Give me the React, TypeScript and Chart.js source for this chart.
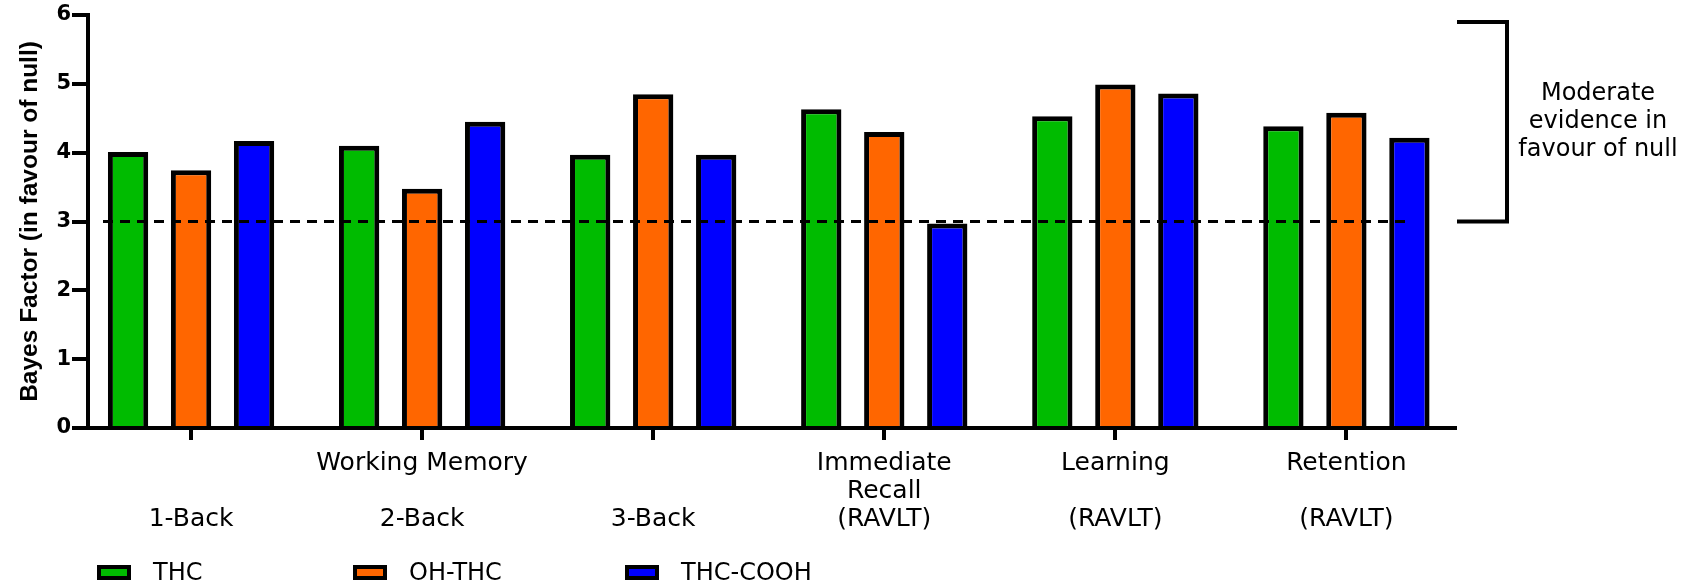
import React, { useEffect, useRef } from 'react';
import { Chart, registerables } from 'chart.js';

Chart.register(...registerables);

// ---- data ----
const categories: string[][] = [
  ['', '', '1-Back'],
  ['Working Memory', '', '2-Back'],
  ['', '', '3-Back'],
  ['Immediate', 'Recall', '(RAVLT)'],
  ['Learning', '', '(RAVLT)'],
  ['Retention', '', '(RAVLT)'],
];
const seriesNames = ['THC', 'OH-THC', 'THC-COOH'];
const thcValues = [4.01, 4.1, 3.97, 4.63, 4.53, 4.385];
const ohThcValues = [3.745, 3.475, 4.85, 4.3, 4.99, 4.58];
const thcCoohValues = [4.17, 4.45, 3.97, 2.97, 4.86, 4.215];
const seriesColors = ['#00bb00', '#ff6600', '#0000ff'];
const yMin = 0;
const yMax = 6;
const yStep = 1;
const threshold = 3;
const bracketRange = [3, 5.9];
const annotationLines = ['Moderate', 'evidence in', 'favour of null'];
const yTitle = 'Bayes Factor (in favour of null)';
const xRange = [-0.446, 5.47];

// layout constants (not data)
const FONT = 'DejaVu Sans';
const legendItemX = [97, 353, 625];

const overlayPlugin = {
  id: 'overlay',
  afterDatasetsDraw(chart: any) {
    const { ctx, chartArea } = chart;
    const y = chart.scales.y;
    const yy = y.getPixelForValue(threshold);
    ctx.save();
    ctx.setLineDash([10, 7]);
    ctx.lineWidth = 3;
    ctx.strokeStyle = '#000';
    ctx.beginPath();
    ctx.moveTo(chartArea.left + 15, yy);
    ctx.lineTo(chartArea.right - 43, yy);
    ctx.stroke();
    ctx.restore();
  },
  afterDraw(chart: any) {
    const { ctx, chartArea } = chart;
    const y = chart.scales.y;
    ctx.save();
    // bracket
    const yTop = y.getPixelForValue(bracketRange[1]);
    const yBot = y.getPixelForValue(bracketRange[0]);
    const bx0 = chartArea.right + 2;
    const bx1 = chartArea.right + 52;
    ctx.lineWidth = 4;
    ctx.strokeStyle = '#000';
    ctx.lineJoin = 'miter';
    ctx.beginPath();
    ctx.moveTo(bx0, yTop);
    ctx.lineTo(bx1, yTop);
    ctx.lineTo(bx1, yBot);
    ctx.lineTo(bx0, yBot);
    ctx.stroke();
    // annotation text
    ctx.fillStyle = '#000';
    ctx.font = `24px "${FONT}"`;
    ctx.textAlign = 'center';
    ctx.textBaseline = 'middle';
    const mid = (yTop + yBot) / 2;
    const lh = 28;
    annotationLines.forEach((t, i) => {
      ctx.fillText(t, chartArea.right + 143, mid + (i - (annotationLines.length - 1) / 2) * lh);
    });
    // legend
    ctx.font = `24px "${FONT}"`;
    ctx.textAlign = 'left';
    const boxY = 565;
    const boxW = 34;
    const boxH = 15;
    const bw = 4;
    chart.data.datasets.forEach((ds: any, i: number) => {
      const x = legendItemX[i];
      ctx.fillStyle = '#000';
      ctx.fillRect(x, boxY, boxW, boxH);
      ctx.fillStyle = ds.backgroundColor;
      ctx.fillRect(x + bw, boxY + bw, boxW - 2 * bw, boxH - 2 * bw);
      ctx.fillStyle = '#000';
      ctx.fillText(ds.label, x + boxW + 22, boxY + boxH / 2 + 1);
    });
    ctx.restore();
  },
};

export default function App() {
  const ref = useRef<HTMLCanvasElement | null>(null);
  useEffect(() => {
    document.body.style.margin = '0';
    const canvas = ref.current;
    if (!canvas) return;
    const seriesValues = [thcValues, ohThcValues, thcCoohValues];
    const chart = new Chart(canvas, {
      type: 'bar',
      data: {
        datasets: seriesNames.map((name, i) => ({
          label: name,
          data: seriesValues[i].map((v, j) => ({ x: j, y: v })),
          backgroundColor: seriesColors[i],
          borderColor: '#000',
          borderWidth: 5,
          borderSkipped: 'bottom',
          categoryPercentage: 0.818,
          barPercentage: 0.64,
        })),
      },
      options: {
        responsive: false,
        animation: false,
        devicePixelRatio: 1,
        layout: { padding: { top: 15, right: 235, bottom: 0, left: 0 } },
        plugins: { legend: { display: false }, tooltip: { enabled: false } },
        scales: {
          x: {
            type: 'linear',
            offset: false,
            min: xRange[0],
            max: xRange[1],
            afterFit: (s: any) => {
              s.height = 157;
            },
            ticks: {
              stepSize: 1,
              includeBounds: false,
              autoSkip: false,
              maxRotation: 0,
              minRotation: 0,
              padding: 9,
              color: '#000',
              font: { family: FONT, size: 25, lineHeight: 1.12 },
              callback: (v: any) => (Number.isInteger(v) && categories[v] ? categories[v] : ''),
            },
            grid: {
              display: true,
              offset: false,
              drawOnChartArea: false,
              drawTicks: true,
              tickLength: 12,
              tickWidth: 4,
              tickColor: '#000',
              color: '#000',
              lineWidth: 4,
            },
            border: { display: true, color: '#000', width: 4, z: 1 },
          },
          y: {
            min: yMin,
            max: yMax,
            afterFit: (s: any) => {
              s.width = 88;
            },
            ticks: {
              stepSize: yStep,
              padding: 1,
              color: '#000',
              font: { family: FONT, size: 21, weight: 'bold' },
            },
            grid: {
              display: true,
              drawOnChartArea: false,
              drawTicks: true,
              tickLength: 16,
              tickWidth: 4,
              tickColor: '#000',
              color: '#000',
              lineWidth: 4,
            },
            border: { display: true, color: '#000', width: 4 },
            title: {
              display: true,
              text: yTitle,
              color: '#000',
              font: { family: 'Liberation Sans', size: 24.5, weight: 'bold' },
              padding: { top: 16, bottom: 0 },
            },
          },
        },
      } as any,
      plugins: [overlayPlugin],
    });
    return () => chart.destroy();
  }, []);
  return (
    <div style={{ width: 1690, height: 585, background: '#fff' }}>
      <canvas ref={ref} width={1690} height={585} style={{ display: 'block' }} />
    </div>
  );
}
